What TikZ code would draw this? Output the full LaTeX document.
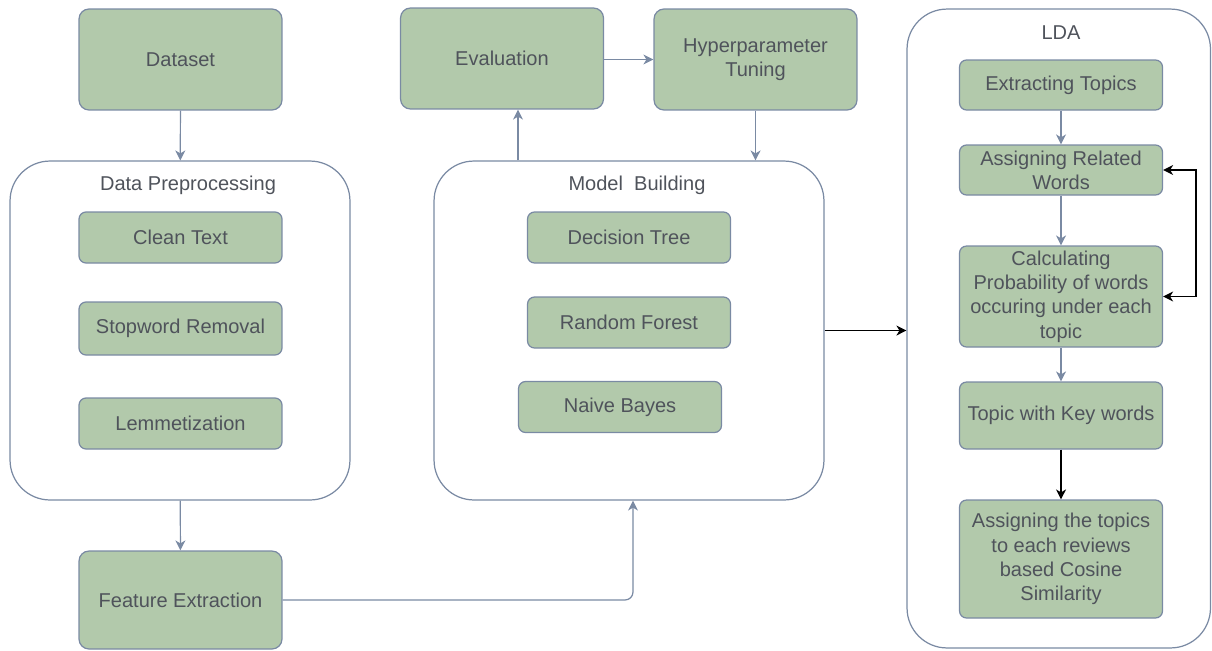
\documentclass[tikz,border=0pt]{standalone}
\usepackage{fontspec}
\setmainfont{Liberation Sans}
\usetikzlibrary{positioning,arrows.meta}
\definecolor{SageFill}{HTML}{B2C9AB}
\definecolor{SlateLine}{HTML}{7A8AA3}
\definecolor{InkGrey}{HTML}{4F535B}

\begin{document}
\begin{tikzpicture}[x=0.02cm,y=-0.02cm,
  every node/.style={font=\fontsize{11.4}{13.8}\selectfont,align=center,text=InkGrey},
  box/.style={draw=SlateLine,line width=0.7pt,rounded corners=0.2cm,fill=SageFill,minimum width=4.06cm,minimum height=2.02cm,inner sep=0pt},
  item/.style={draw=SlateLine,line width=0.7pt,rounded corners=0.14cm,fill=SageFill,minimum width=4.06cm,minimum height=1.02cm,inner sep=0pt},
  panel/.style={draw=SlateLine,line width=0.7pt,rounded corners=0.8cm,inner sep=0pt},
  arr/.style={draw=SlateLine,line width=0.7pt,-{Stealth[length=2mm,width=2mm,inset=0.6mm]}},
  blk/.style={draw=black,line width=0.8pt,-{Stealth[length=2mm,width=2mm,inset=0.6mm]}}]
  \useasboundingbox (0,0) rectangle (1212,650);

  % left column
  \node[box] (ds) at (180.5,59.5) {Dataset};
  \node[panel,minimum width=6.8cm,minimum height=6.78cm] (dp) at (180,330.5) {};
  \node (dptitle) at (188,185) {Data Preprocessing};
  \node[item] (ct) at (180.5,237.5) {Clean Text};
  \node[item,minimum height=1.06cm] (sw) at (180.5,328.5) {Stopword Removal};
  \node[item] (lm) at (180.5,423.5) {Lemmetization};
  \node[box,minimum height=1.96cm] (fe) at (180.5,600) {Feature Extraction};

  % middle column
  \node[box] (ev) at (502,58.5) {Evaluation};
  \node[box] (ht) at (755.5,59.5) {Hyperparameter\\Tuning};
  \node[panel,minimum width=7.8cm,minimum height=6.78cm] (mb) at (629,330.5) {};
  \node (mbtitle) at (637,185) {Model\ \ Building};
  \node[item] (dt) at (629,237.5) {Decision Tree};
  \node[item] (rf) at (629,322.5) {Random Forest};
  \node[item] (nb) at (620,407) {Naive Bayes};

  % LDA column
  \node[panel,minimum width=6.07cm,minimum height=12.78cm] (lda) at (1058.75,328.5) {};
  \node (ldatitle) at (1061,33) {LDA};
  \node[item,minimum height=1cm] (et) at (1061,85) {Extracting Topics};
  \node[item,minimum height=1cm] (arw) at (1061,170) {Assigning Related\\Words};
  \node[item,minimum height=2.02cm] (cp) at (1061,296.5) {Calculating\\Probability of words\\occuring under each\\topic};
  \node[item,minimum height=1.34cm] (tk) at (1061,415.5) {Topic with Key words};
  \node[item,minimum height=2.36cm] (at) at (1061,559) {Assigning the topics\\to each reviews\\based Cosine\\Similarity};

  % connectors
  \draw[arr] (ds) -- (dp);
  \draw[arr] (dp) -- (fe);
  \draw[arr,rounded corners=0.16cm] (fe.east) -| ([xshift=0.08cm]mb.south);
  \draw[arr] ([xshift=0.32cm]ev.south |- mb.north) -- ([xshift=0.32cm]ev.south);
  \draw[arr] (ev.east |- ht.west) -- (ht.west);
  \draw[arr] (ht.south) -- (ht.south |- mb.north);
  \draw[blk] (mb.east) -- (lda.west |- mb.east);
  \draw[arr] (et) -- (arw);
  \draw[arr] (arw) -- (cp);
  \draw[arr] (cp) -- (tk);
  \draw[blk] (tk) -- (at);
  \draw[blk,{Stealth[length=2mm,width=2mm,inset=0.6mm]}-{Stealth[length=2mm,width=2mm,inset=0.6mm]}] (arw.east) -- ([xshift=0.66cm]arw.east) |- (cp.east);
\end{tikzpicture}
\end{document}
